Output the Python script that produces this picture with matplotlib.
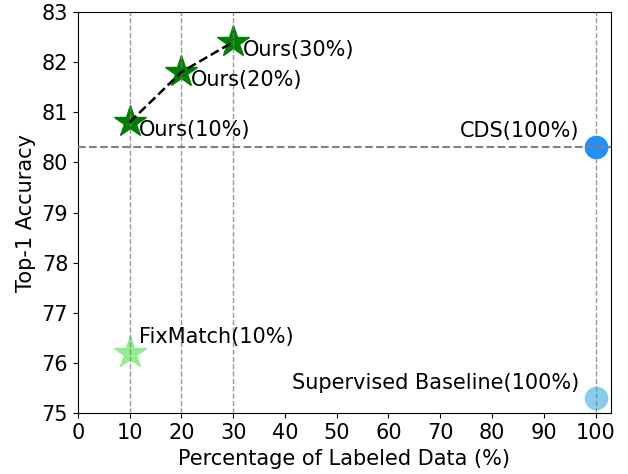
import matplotlib
matplotlib.use("Agg")
import matplotlib.pyplot as plt

ours_x = [10, 20, 30]
ours_y = [80.8, 81.8, 82.4]
ours_labels = ["Ours(10%)", "Ours(20%)", "Ours(30%)"]
fix_x, fix_y, fix_label = 10, 76.2, "FixMatch(10%)"
cds_x, cds_y, cds_label = 100, 80.3, "CDS(100%)"
sup_x, sup_y, sup_label = 100, 75.3, "Supervised Baseline(100%)"

fig, ax = plt.subplots(figsize=(6.28, 4.74), dpi=100)

ax.plot(ours_x, ours_y, linestyle="none", marker="*", markersize=24, color="green", zorder=2)
ax.plot([fix_x], [fix_y], linestyle="none", marker="*", markersize=24, color="lightgreen", zorder=2)
ax.plot([cds_x], [cds_y], linestyle="none", marker="o", markersize=16, color="dodgerblue", zorder=2)
ax.plot([sup_x], [sup_y], linestyle="none", marker="o", markersize=16, color="skyblue", zorder=2)

for xv in ours_x:
    ax.axvline(xv, color="gray", linestyle="--", linewidth=1, alpha=0.8, zorder=3)
ax.axvline(100, color="gray", linestyle="--", linewidth=1, alpha=0.8, zorder=3)
ax.axhline(cds_y, color="gray", linestyle="--", linewidth=1.5, zorder=3)
ax.plot(ours_x, ours_y, color="black", linestyle="--", linewidth=1.8, zorder=4)

fs = 15
for xv, yv, lab in zip(ours_x, ours_y, ours_labels):
    ax.text(xv + 1.8, yv - 0.16, lab, fontsize=fs, ha="left", va="center", zorder=5)
ax.text(fix_x + 1.8, fix_y + 0.33, fix_label, fontsize=fs, ha="left", va="center", zorder=5)
ax.text(cds_x - 3.2, cds_y + 0.32, cds_label, fontsize=fs, ha="right", va="center", zorder=5)
ax.text(sup_x - 3.2, sup_y + 0.31, sup_label, fontsize=fs, ha="right", va="center", zorder=5)

ax.set_xlim(0, 103)
ax.set_ylim(75, 83)
ax.set_xticks(range(0, 101, 10))
ax.set_yticks(range(75, 84))
ax.tick_params(labelsize=fs)
ax.set_xlabel("Percentage of Labeled Data (%)", fontsize=fs)
ax.set_ylabel("Top-1 Accuracy", fontsize=fs)

fig.subplots_adjust(left=0.124, right=0.973, top=0.975, bottom=0.128)
fig.savefig("out.png", dpi=100)
